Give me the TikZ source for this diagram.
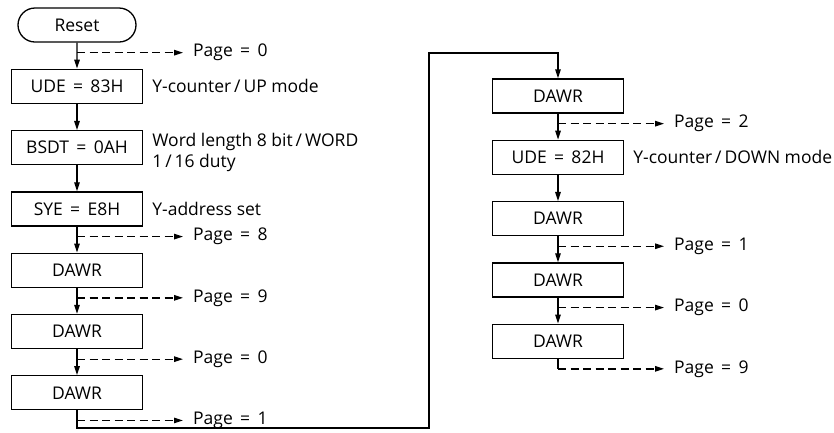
\documentclass[tikz,border=0pt]{standalone}
\usepackage{fontspec}
\setmainfont{Open Sans}
\usetikzlibrary{arrows.meta,positioning,calc,shapes.misc}
\newcommand{\eqsp}{\hspace{0.42em}=\hspace{0.42em}}

\begin{document}
\begin{tikzpicture}[
  x=1pt,y=-1pt,
  font=\fontsize{17.5}{21}\selectfont,
  box/.style={draw,line width=1.3pt,minimum width=131pt,minimum height=34pt,inner sep=2pt},
  startbox/.style={rounded rectangle,draw,line width=1.3pt,minimum width=122pt,minimum height=34pt,inner sep=2pt},
  note/.style={align=left,anchor=west,inner sep=2pt},
  pagelbl/.style={inner sep=4pt},
  arr/.style={-{Triangle[length=9pt,width=5.5pt]},line width=1.3pt},
  dasharr/.style={-{Triangle[length=9pt,width=5.5pt]},line width=1.3pt,dash pattern=on 8pt off 4.5pt,shorten >=6pt}]
  \useasboundingbox (0,0) rectangle (834,432);
  % left column
  \node[startbox] (reset) at (77,25) {Reset};
  \node[box,below=26pt of reset] (udeA) {UDE\eqsp 83H};
  \node[box,below=26pt of udeA] (bsdt) {BSDT\eqsp 0AH};
  \node[box,below=26pt of bsdt] (sye) {SYE\eqsp E8H};
  \node[box,below=26pt of sye] (dawrA) {DAWR};
  \node[box,below=26pt of dawrA] (dawrB) {DAWR};
  \node[box,below=26pt of dawrB] (dawrC) {DAWR};
  \node[note,right=7pt of udeA] (udeAnote) {Y-counter\,/\,UP mode};
  \node[note,right=7pt of bsdt,yshift=-5pt] (bsdtnote) {Word length 8 bit\,/\,WORD\\1\,/\,16 duty};
  \node[note,right=7pt of sye] (syenote) {Y-address set};
  % right column
  \node[box] (dawrD) at (558,96) {DAWR};
  \node[box,below=26pt of dawrD] (udeB) {UDE\eqsp 82H};
  \node[box,below=26pt of udeB] (dawrE) {DAWR};
  \node[box,below=26pt of dawrE] (dawrF) {DAWR};
  \node[box,below=26pt of dawrF] (dawrG) {DAWR};
  \node[note,right=7pt of udeB] (udeBnote) {Y-counter\,/\,DOWN mode};
  % taps for the page arrows
  \coordinate (tA) at ($(reset.south)+(0,10)$);
  \coordinate (tB) at ($(sye.south)+(0,10)$);
  \coordinate (tC) at ($(dawrA.south)+(0,10)$);
  \coordinate (tD) at ($(dawrB.south)+(0,10)$);
  \coordinate (tE) at ($(dawrC.south)+(0,10)$);
  \coordinate (tF) at ($(dawrD.south)+(0,10)$);
  \coordinate (tG) at ($(dawrE.south)+(0,10)$);
  \coordinate (tH) at ($(dawrF.south)+(0,10)$);
  \coordinate (tI) at ($(dawrG.south)+(0,10)$);
  \node[pagelbl,right=112pt of tA] (pA) {Page\eqsp 0};
  \node[pagelbl,right=112pt of tB] (pB) {Page\eqsp 8};
  \node[pagelbl,right=112pt of tC] (pC) {Page\eqsp 9};
  \node[pagelbl,right=112pt of tD] (pD) {Page\eqsp 0};
  \node[pagelbl,right=112pt of tE] (pE) {Page\eqsp 1};
  \node[pagelbl,right=112pt of tF] (pF) {Page\eqsp 2};
  \node[pagelbl,right=112pt of tG] (pG) {Page\eqsp 1};
  \node[pagelbl,right=112pt of tH] (pH) {Page\eqsp 0};
  \node[pagelbl,right=112pt of tI] (pI) {Page\eqsp 9};
  % flow
  \draw[arr] (reset) -- (udeA);
  \draw[arr] (udeA) -- (bsdt);
  \draw[arr] (bsdt) -- (sye);
  \draw[arr] (sye) -- (dawrA);
  \draw[arr] (dawrA) -- (dawrB);
  \draw[arr] (dawrB) -- (dawrC);
  \coordinate (loopA) at (429,428);
  \coordinate (loopB) at (429,53);
  \draw[arr] (dawrC.south) |- (loopA) -- (loopB) -| (dawrD.north);
  \draw[arr] (dawrD) -- (udeB);
  \draw[arr] (udeB) -- (dawrE);
  \draw[arr] (dawrE) -- (dawrF);
  \draw[arr] (dawrF) -- (dawrG);
  \draw[line width=1.3pt] (dawrG.south) -- (tI);
  \foreach \t/\p in {tA/pA,tB/pB,tC/pC,tD/pD,tE/pE,tF/pF,tG/pG,tH/pH,tI/pI}
    \draw[dasharr] (\t) -- (\p.west);
\end{tikzpicture}
\end{document}
